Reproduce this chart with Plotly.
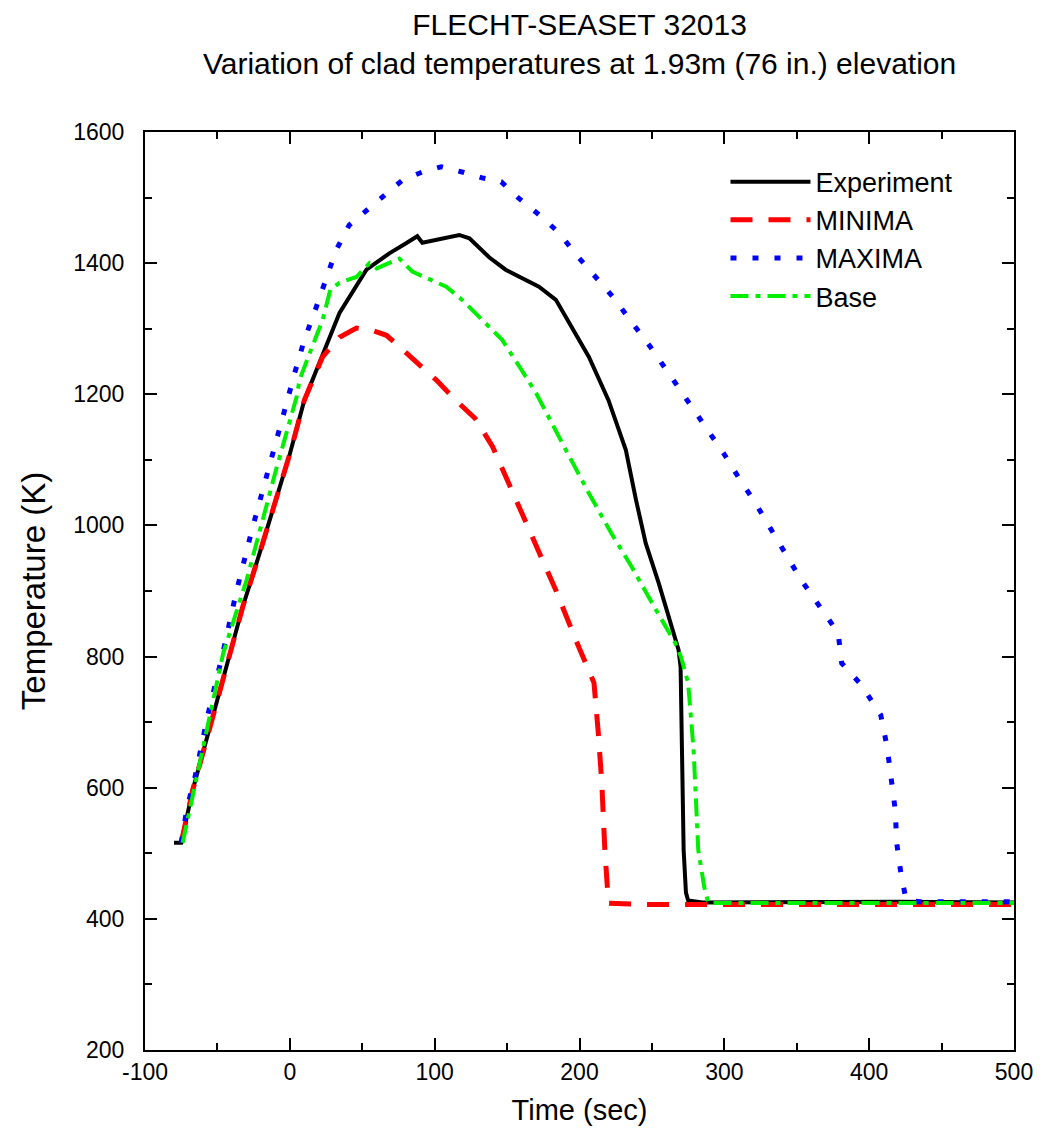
import plotly.graph_objects as go

# Experiment (black, solid)
exp_t = [-80, -75, -67, -57, -43.5, -32.5, -20.8, -7, 0, 10, 15.7, 22.6, 34.3, 52.9, 68.7, 80, 88,
         91.5, 101, 110, 117, 124, 137.6, 149, 160, 172, 183.7, 194.8, 206.5, 220, 232, 239, 245.7,
         254.7, 262, 268.4, 269.8, 270.5, 271.9, 273.5, 275, 285, 350, 420, 500]
exp_T = [516, 516, 597, 677, 790, 876, 958, 1059, 1109, 1191, 1222, 1257, 1324, 1390, 1415, 1430, 1441,
         1431, 1435, 1440, 1443, 1438, 1409, 1390, 1377, 1364, 1344, 1303, 1257, 1191, 1115, 1039, 973,
         912, 860, 810, 784, 657, 505, 440, 428, 425, 426, 426, 425]

# MINIMA (red, dashed)
min_t = [-75, -67, -57, -43.5, -32.5, -20.8, -7, 0, 10, 15.7, 22.6, 34.3, 46, 56, 66.7, 80.4, 101,
         115, 128, 140, 151, 167, 183.7, 197.5, 210, 213, 215.4, 217.5, 220, 241, 300, 400, 500]
min_T = [516, 597, 677, 790, 876, 958, 1059, 1109, 1191, 1222, 1257, 1287, 1301, 1298, 1290, 1263, 1222,
         1190, 1163, 1120, 1065, 982, 901, 825, 760, 683, 607, 505, 424, 422, 422, 422, 422]

# MAXIMA (blue, dotted)
max_t = [-75, -71, -65.6, -56.6, -46.3, -36.7, -25.6, -14, -2.2, 3.3, 10, 17, 24, 32, 41, 53, 64, 78,
         91.5, 104.5, 119, 132.8, 146, 158, 172, 186, 198, 212, 223.7, 236, 249, 261.6, 272, 287, 299.5,
         311, 321.5, 332.5, 342, 353, 378.6, 381, 394.5, 408, 412.4, 415, 418, 419, 422, 425.5, 435, 500]
max_T = [516, 569, 615, 711, 805, 901, 998, 1089, 1187, 1232, 1283, 1325, 1370, 1420, 1458, 1481, 1501, 1527,
         1539, 1547, 1539, 1530, 1524, 1499, 1474, 1446, 1412, 1377, 1347, 1310, 1272, 1232, 1199, 1150, 1110,
         1069, 1034, 993, 958, 917, 836, 790, 757, 711, 662, 615, 566, 516, 468, 429, 426, 426]

# Base (green, dash-dot)
base_t = [-74, -60, -46, -29.8, -9, 4.7, 6.7, 15, 22.6, 28, 34.3, 46, 55, 60, 66.7, 75.6, 84.6, 98.4,
          108, 119, 132.8, 146.6, 160, 170, 190.6, 206.5, 222, 236, 250, 266, 270, 275, 278.8, 281, 282,
          286, 289, 300, 400, 500]
base_T = [516, 662, 805, 917, 1089, 1196, 1222, 1270, 1313, 1360, 1370, 1379, 1400, 1392, 1398, 1407, 1387, 1374,
          1364, 1344, 1313, 1283, 1237, 1202, 1115, 1049, 988, 937, 882, 821, 800, 760, 657, 555, 505,
          450, 424, 424, 424, 424]

x_ticks = [-100, 0, 100, 200, 300, 400, 500]
x_labels = ['-100', '0', '100', '200', '300', '400', '500']
y_ticks = [200, 400, 600, 800, 1000, 1200, 1400, 1600]

FONT = 'Liberation Sans, Arial, sans-serif'

fig = go.Figure()
fig.add_trace(go.Scatter(x=exp_t, y=exp_T, mode='lines', name='Experiment',
                         line=dict(color='black', width=4)))
fig.add_trace(go.Scatter(x=min_t, y=min_T, mode='lines', name='MINIMA',
                         line=dict(color='#ff0000', width=5, dash='22px,16px')))
fig.add_trace(go.Scatter(x=max_t, y=max_T, mode='lines', name='MAXIMA',
                         line=dict(color='#0000ff', width=5, dash='6px,16px')))
fig.add_trace(go.Scatter(x=base_t, y=base_T, mode='lines', name='Base',
                         line=dict(color='#00ee00', width=4, dash='18px,7px,5px,7px')))

axis_common = dict(showline=True, linecolor='black', linewidth=2, mirror='ticks',
                   ticks='inside', ticklen=12, tickwidth=2, tickcolor='black',
                   showgrid=False, zeroline=False,
                   tickfont=dict(family=FONT, size=23, color='black'))

fig.update_xaxes(range=[-100, 500], tickvals=x_ticks, ticktext=x_labels,
                 minor=dict(dtick=50, ticks='inside', ticklen=7, tickwidth=2, tickcolor='black'),
                 title=dict(text='Time (sec)', font=dict(family=FONT, size=29, color='black'), standoff=16),
                 **axis_common)
fig.update_yaxes(range=[200, 1600], tickvals=y_ticks,
                 minor=dict(dtick=100, ticks='inside', ticklen=7, tickwidth=2, tickcolor='black'),
                 ticklabelstandoff=14,
                 title=dict(text='Temperature (K)', font=dict(family=FONT, size=33, color='black'), standoff=18),
                 **axis_common)

fig.add_annotation(text='FLECHT-SEASET 32013<br>Variation of clad temperatures at 1.93m (76 in.) elevation',
                   xref='paper', yref='paper', x=0.5, y=1.055, xanchor='center', yanchor='bottom',
                   showarrow=False, font=dict(family=FONT, size=30, color='black'))

fig.update_layout(
    width=1037, height=1131,
    margin=dict(l=137, r=29, t=124, b=89),
    paper_bgcolor='white', plot_bgcolor='white',
    font=dict(family=FONT, color='black'),
    legend=dict(x=0.668, y=0.972, xanchor='left', yanchor='top',
                bgcolor='rgba(0,0,0,0)', font=dict(family=FONT, size=27, color='black'),
                itemwidth=80, tracegroupgap=0),
)

fig.write_html("out.html")
